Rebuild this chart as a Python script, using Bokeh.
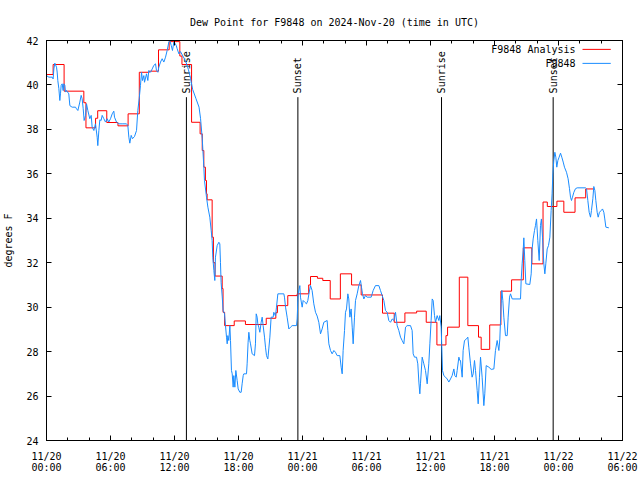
import numpy as np
import pandas as pd
from bokeh.plotting import figure
from bokeh.models import (Range1d, FixedTicker, DatetimeTickFormatter, LinearAxis, DatetimeAxis,
                          Label, Arrow, CustomJSTickFormatter)
from bokeh.core.properties import value
from bokeh.embed import file_html
from bokeh.resources import INLINE

START = pd.Timestamp("2024-11-20 00:00")
END = pd.Timestamp("2024-11-22 06:00")

TITLE = "Dew Point for F9848 on 2024-Nov-20 (time in UTC)"
Y_LABEL = "degrees F"
SERIES_NAMES = ["F9848 Analysis", "F9848"]

# Analysis (step series): hours after 11/20 00:00 UTC, degrees F
analysis_hours = [0.0, 0.62, 1.65, 3.5, 3.7, 4.6, 4.8, 5.65, 6.7, 7.65, 8.7, 9.65, 10.5, 11.5,
                  12.5, 12.7, 13.6, 14.4, 14.6, 14.75, 14.9, 15.0, 15.06, 15.53, 15.65, 15.8,
                  16.47, 16.55, 16.7, 17.6, 18.65, 20.6, 21.5, 21.65, 22.62, 23.5, 24.58, 24.75,
                  25.4, 25.9, 26.6, 27.55, 28.6, 29.5, 31.5, 32.6, 33.6, 34.7, 35.6, 36.6,
                  37.45, 37.6, 38.7, 39.5, 40.5, 40.75, 41.55, 42.6, 43.6, 44.7, 45.5, 46.55,
                  46.95, 47.85, 48.5, 49.55, 50.55, 51.3]
analysis_degF = [40.47, 40.92, 39.72, 39.2, 38.07, 38.5, 38.84, 38.31, 38.16, 38.7, 40.57, 40.62,
                 41.58, 41.95, 41.3, 40.92, 38.32, 37.8, 37.05, 36.3, 35.7, 35.1, 34.83, 33.15,
                 32.0, 31.4, 30.84, 29.77, 29.17, 29.38, 29.22, 29.5, 29.75, 30.07, 30.52, 30.6,
                 31.0, 31.38, 31.3, 31.2, 30.37, 31.5, 31.0, 30.55, 29.73, 29.32, 29.74, 29.82,
                 29.32, 28.3, 28.72, 29.1, 31.35, 29.17, 28.65, 28.1, 29.2, 30.72, 31.23, 32.67,
                 31.95, 34.73, 34.53, 34.77, 34.27, 34.92, 35.32, 35.32]

# Observations: hours after 11/20 00:00 UTC, degrees F
obs_hours = [
    0.0, 0.22, 0.53, 0.62, 0.69, 0.78, 0.94, 1.0, 1.06, 1.16, 1.25, 1.31, 1.375, 1.47, 1.56,
    1.625, 1.72, 1.78, 1.875, 2.09, 2.19, 2.31, 2.41, 2.72, 2.81, 2.94, 3.125, 3.25, 3.34, 3.44,
    3.53, 3.66, 3.75, 3.875, 4.06, 4.19, 4.28, 4.44, 4.59, 4.75, 4.81, 4.91, 5.0, 5.12, 5.22,
    5.375, 5.53, 5.69, 5.84, 6.0, 6.16, 6.31, 6.375, 6.56, 6.78, 7.09, 7.5, 7.625, 7.72, 7.81,
    7.94, 8.06, 8.25, 8.44, 8.56, 8.69, 8.81, 8.91, 9.0, 9.125, 9.19, 9.375, 9.5, 9.59, 9.75,
    9.91, 10.06, 10.22, 10.31, 10.44, 10.53, 10.69, 10.84, 11.0, 11.16, 11.31, 11.47, 11.56,
    11.69, 11.81, 11.94, 12.03, 12.16, 12.25, 12.41, 12.56, 12.9, 13.1, 13.3, 13.5, 13.7, 14.0,
    14.3, 14.44, 14.6, 14.75, 14.81, 15.0, 15.13, 15.31, 15.44, 15.53, 15.59, 15.69, 15.78,
    15.84, 16.0, 16.16, 16.25, 16.31, 16.37, 16.47, 16.56, 16.69, 16.78, 16.875, 16.94, 17.0,
    17.09, 17.19, 17.25, 17.34, 17.41, 17.5, 17.56, 17.66, 17.75, 17.875, 17.97, 18.125, 18.25,
    18.34, 18.44, 18.5, 18.75, 18.81, 18.9, 18.97, 19.06, 19.125, 19.28, 19.5, 19.59, 19.66,
    19.75, 19.81, 19.9, 20.0, 20.125, 20.22, 20.31, 20.44, 20.53, 20.625, 20.75, 20.84, 20.94,
    21.06, 21.25, 21.31, 21.47, 21.56, 21.69, 22.25, 22.31, 22.41, 22.56, 22.72, 22.875, 23.03,
    23.44, 23.5, 23.59, 23.75, 23.81, 23.97, 24.06, 24.22, 24.375, 24.5, 24.625, 24.75, 24.9,
    25.06, 25.22, 25.375, 25.53, 25.69, 25.84, 26.0, 26.31, 26.375, 26.47, 26.625, 26.78,
    26.94, 27.09, 27.25, 27.5, 27.625, 27.72, 27.81, 27.94, 28.03, 28.125, 28.25, 28.34, 28.44,
    28.56, 28.66, 28.75, 28.875, 28.97, 29.125, 29.28, 29.44, 29.53, 29.625, 29.75, 29.9, 30.06,
    30.44, 30.625, 30.84, 31.16, 31.31, 31.47, 31.625, 31.78, 31.94, 32.09, 32.25, 32.41, 32.56,
    32.72, 32.875, 33.03, 33.19, 33.34, 33.5, 33.66, 33.81, 34.125, 34.28, 34.375, 34.5, 34.69,
    34.81, 34.91, 35.0, 35.06, 35.22, 35.375, 35.53, 35.69, 35.84, 35.94, 36.06, 36.16, 36.25,
    36.375, 36.47, 36.625, 36.78, 36.875, 37.0, 37.125, 37.25, 37.41, 37.56, 37.72, 37.875,
    38.03, 38.19, 38.28, 38.41, 38.5, 38.66, 38.75, 38.81, 38.97, 39.06, 39.19, 39.375, 39.5,
    39.59, 39.75, 39.9, 40.0, 40.125, 40.22, 40.375, 40.47, 40.59, 40.69, 40.84, 41.0, 41.09,
    41.22, 41.47, 41.69, 41.94, 42.09, 42.25, 42.41, 42.5, 42.56, 42.625, 42.69, 42.78, 42.875,
    43.03, 43.19, 43.28, 43.41, 43.5, 43.66, 44.44, 44.5, 44.59, 44.69, 44.75, 44.84, 44.94,
    45.31, 45.44, 45.53, 45.625, 45.75, 45.84, 45.94, 46.06, 46.19, 46.31, 46.4, 46.5, 46.625,
    46.72, 46.81, 46.94, 47.06, 47.19, 47.31, 47.4, 47.47, 47.56, 47.66, 47.75, 47.84, 47.94,
    48.06, 48.19, 48.31, 48.44, 48.56, 48.75, 48.9, 49.03, 49.125, 49.22, 49.31, 49.44, 49.59,
    49.75, 50.53, 50.625, 50.75, 50.875, 51.0, 51.09, 51.22, 51.31, 51.41, 51.5, 51.625, 51.72,
    51.84, 52.0, 52.125, 52.25, 52.34, 52.44, 52.72]
obs_degF = [
    40.42, 40.35, 40.35, 40.27, 40.72, 40.98, 40.8, 40.58, 40.2, 39.83, 39.3, 39.6, 39.98, 40.05,
    39.75, 40.05, 39.98, 39.68, 39.75, 39.6, 39.07, 39.03, 39.0, 39.0, 38.93, 38.85, 39.23, 39.53,
    39.38, 38.93, 38.4, 38.63, 39.15, 38.85, 38.48, 38.63, 38.1, 37.95, 38.25, 37.65, 37.27,
    37.95, 38.43, 38.4, 38.63, 38.48, 38.33, 38.48, 38.33, 38.48, 38.7, 38.82, 38.55, 38.33,
    38.25, 38.25, 38.25, 38.18, 37.65, 37.38, 37.73, 37.58, 37.68, 37.95, 38.85, 39.38, 39.98,
    40.57, 40.2, 40.42, 40.12, 40.5, 40.2, 40.65, 40.57, 40.72, 40.88, 40.95, 40.65, 40.57, 40.8,
    41.03, 41.18, 41.03, 41.25, 41.55, 41.93, 42.0, 41.78, 41.55, 41.93, 41.88, 41.78, 41.63,
    41.4, 41.5, 41.2, 41.0, 40.7, 40.3, 39.8, 39.4, 39.0, 38.5, 37.6, 36.3, 35.7, 34.95, 34.5,
    34.05, 33.45, 33.0, 32.25, 31.65, 31.2, 32.25, 32.77, 32.92, 32.85, 32.0, 31.1, 30.5, 29.85,
    29.7, 29.17, 28.65, 28.35, 28.72, 28.5, 29.17, 28.5, 27.15, 27.0, 26.4, 26.92, 26.4, 27.15,
    26.7, 26.32, 26.17, 26.17, 26.55, 26.92, 27.0, 27.0, 27.45, 28.42, 28.87, 28.5, 28.35, 27.9,
    27.82, 28.35, 29.7, 29.55, 29.25, 29.1, 28.87, 29.32, 29.55, 29.17, 28.65, 28.2, 27.82,
    27.67, 28.12, 28.65, 29.55, 29.55, 29.77, 29.6, 30.0, 30.6, 30.6, 30.45, 30.0, 29.55, 29.02,
    29.1, 29.17, 29.17, 29.47, 30.6, 30.97, 30.45, 30.0, 30.3, 30.22, 30.15, 30.3, 30.67, 30.97,
    30.75, 30.15, 29.77, 29.6, 29.32, 28.8, 29.02, 29.32, 29.4, 28.95, 28.35, 28.05, 27.9, 28.05,
    27.97, 27.82, 27.82, 27.3, 27.0, 28.05, 28.95, 29.77, 29.92, 30.6, 30.37, 29.55, 29.92, 29.1,
    28.35, 29.55, 30.3, 30.6, 30.97, 31.2, 30.9, 30.6, 30.37, 30.52, 30.45, 30.45, 30.75, 30.97,
    30.97, 30.75, 30.52, 30.3, 29.85, 29.77, 29.4, 29.32, 29.47, 29.4, 29.77, 29.17, 28.95,
    28.65, 28.5, 28.35, 29.1, 29.17, 29.17, 28.95, 27.9, 27.75, 27.75, 27.45, 26.63, 26.1, 26.55,
    27.75, 27.45, 27.15, 26.55, 27.45, 28.35, 29.4, 30.37, 30.3, 29.62, 29.32, 29.62, 29.4,
    29.62, 29.1, 27.15, 26.92, 26.85, 26.77, 26.63, 26.77, 26.92, 27.22, 26.92, 26.85, 27.15,
    27.75, 27.6, 27.6, 26.85, 28.05, 28.5, 28.57, 28.65, 28.2, 27.45, 26.85, 27.0, 27.6, 27.15,
    26.25, 25.65, 26.85, 27.75, 26.85, 25.57, 26.1, 27.37, 27.3, 27.2, 27.22, 28.05, 28.5, 28.05,
    28.57, 29.32, 30.15, 30.75, 30.3, 29.55, 28.72, 28.72, 29.55, 30.45, 30.6, 30.37, 30.37,
    31.2, 31.95, 32.55, 33.12, 32.1, 31.05, 31.02, 31.5, 32.62, 33.07, 33.45, 33.67, 33.97, 33.0,
    32.1, 33.67, 33.97, 33.15, 31.95, 31.5, 31.95, 32.62, 32.77, 33.15, 34.35, 35.1, 36.0, 36.6,
    36.97, 36.75, 36.3, 36.6, 36.75, 36.93, 36.75, 36.53, 36.3, 36.07, 35.78, 35.33, 34.95, 34.8,
    34.95, 35.17, 35.33, 35.37, 35.37, 35.33, 34.8, 34.27, 34.05, 34.35, 34.88, 35.43, 35.25,
    34.8, 34.27, 34.05, 34.27, 34.35, 34.42, 34.27, 33.97, 33.6, 33.57]

sun_times = ["2024-11-20 13:07", "2024-11-20 23:34", "2024-11-21 13:02", "2024-11-21 23:30"]
sun_labels = ["Sunrise", "Sunset", "Sunrise", "Sunset"]

y_ticks = [24, 26, 28, 30, 32, 34, 36, 38, 40, 42]
x_major_hours = [0, 6, 12, 18, 24, 30, 36, 42, 48, 54]
x_minor_hours = list(range(0, 55, 2))

FONT = "DejaVu Sans Mono"
FS = "10px"
RED = "#ff0000"
BLUE = "#1a8cff"


def to_ms(hours):
    return [(START + pd.Timedelta(hours=h)).value / 1e6 for h in hours]


t_analysis = START + pd.to_timedelta(analysis_hours, unit="h")
t_obs = START + pd.to_timedelta(obs_hours, unit="h")
t_sun = pd.to_datetime(sun_times)

p = figure(frame_width=576, frame_height=400, x_axis_type="datetime",
           x_range=Range1d(START, END), y_range=Range1d(24, 42),
           output_backend="svg", toolbar_location=None,
           min_border_left=46, min_border_right=16, min_border_top=40, min_border_bottom=38)
p.background_fill_color = "white"
p.border_fill_color = "white"
p.outline_line_color = "black"
p.xgrid.grid_line_color = None
p.ygrid.grid_line_color = None

p.title.text = TITLE
p.title.align = "center"
p.title.text_font = FONT
p.title.text_font_size = FS
p.title.text_font_style = "normal"
p.title.text_color = "black"
p.title.standoff = 26

xticker = FixedTicker(ticks=to_ms(x_major_hours), minor_ticks=to_ms(x_minor_hours))
yticker = FixedTicker(ticks=y_ticks)
fmt = "%m/%d\n%H:%M"
xfmt = DatetimeTickFormatter(minutes=fmt, hourmin=fmt, hours=fmt, days=fmt, months=fmt)

xa = p.xaxis[0]
xa.ticker = xticker
xa.formatter = xfmt
ya = p.yaxis[0]
ya.ticker = yticker
ya.axis_label = Y_LABEL

for ax in (xa, ya):
    ax.major_tick_in = 5
    ax.major_tick_out = 0
    ax.minor_tick_in = 3
    ax.minor_tick_out = 0
    ax.major_label_text_font = FONT
    ax.major_label_text_font_size = FS
    ax.major_label_text_color = "black"
    ax.axis_line_color = "black"
    ax.major_tick_line_color = "black"
    ax.minor_tick_line_color = "black"
    ax.axis_label_text_font = FONT
    ax.axis_label_text_font_size = FS
    ax.axis_label_text_font_style = "normal"
    ax.axis_label_text_color = "black"
xa.major_label_standoff = 10
xa.major_label_text_line_height = 1.05
ya.major_label_standoff = 8
ya.axis_label_standoff = 9

blank = CustomJSTickFormatter(code="return ''")
top = DatetimeAxis(ticker=xticker, formatter=blank, major_tick_in=5, major_tick_out=0,
                   minor_tick_in=3, minor_tick_out=0, major_label_text_color=None,
                   major_label_standoff=0)
right = LinearAxis(ticker=yticker, formatter=blank, major_tick_in=5, major_tick_out=0,
                   minor_tick_in=0, minor_tick_out=0, major_label_text_color=None,
                   major_label_standoff=0)
p.add_layout(top, "above")
p.add_layout(right, "right")

# sunrise / sunset markers
p.segment(x0=t_sun, y0=24, x1=t_sun, y1=39.45, line_color="black", line_width=1)
p.text(x=t_sun, y=39.62, text=sun_labels, angle=np.pi / 2, text_align="left",
       text_baseline="middle", text_font=value(FONT), text_font_size=value(FS),
       text_color="black")

p.step(t_analysis, analysis_degF, mode="after", line_color=RED, line_width=1)
p.line(t_obs, obs_degF, line_color=BLUE, line_width=1)

# gnuplot-style key: text right-aligned, then a short line sample
label_x = (START + pd.Timedelta(hours=49.6)).value / 1e6
key_x0 = (START + pd.Timedelta(hours=50.25)).value / 1e6
key_x1 = (START + pd.Timedelta(hours=52.9)).value / 1e6
for name, yv, col in zip(SERIES_NAMES, [41.6, 40.97], [RED, BLUE]):
    p.add_layout(Label(x=label_x, y=yv, text=name, text_align="right", text_baseline="middle",
                       text_font=FONT, text_font_size=FS, text_color="black"))
    p.add_layout(Arrow(end=None, x_start=key_x0, y_start=yv, x_end=key_x1, y_end=yv,
                       line_color=col, line_width=1))

open("out.html", "w").write(file_html(p, INLINE))
